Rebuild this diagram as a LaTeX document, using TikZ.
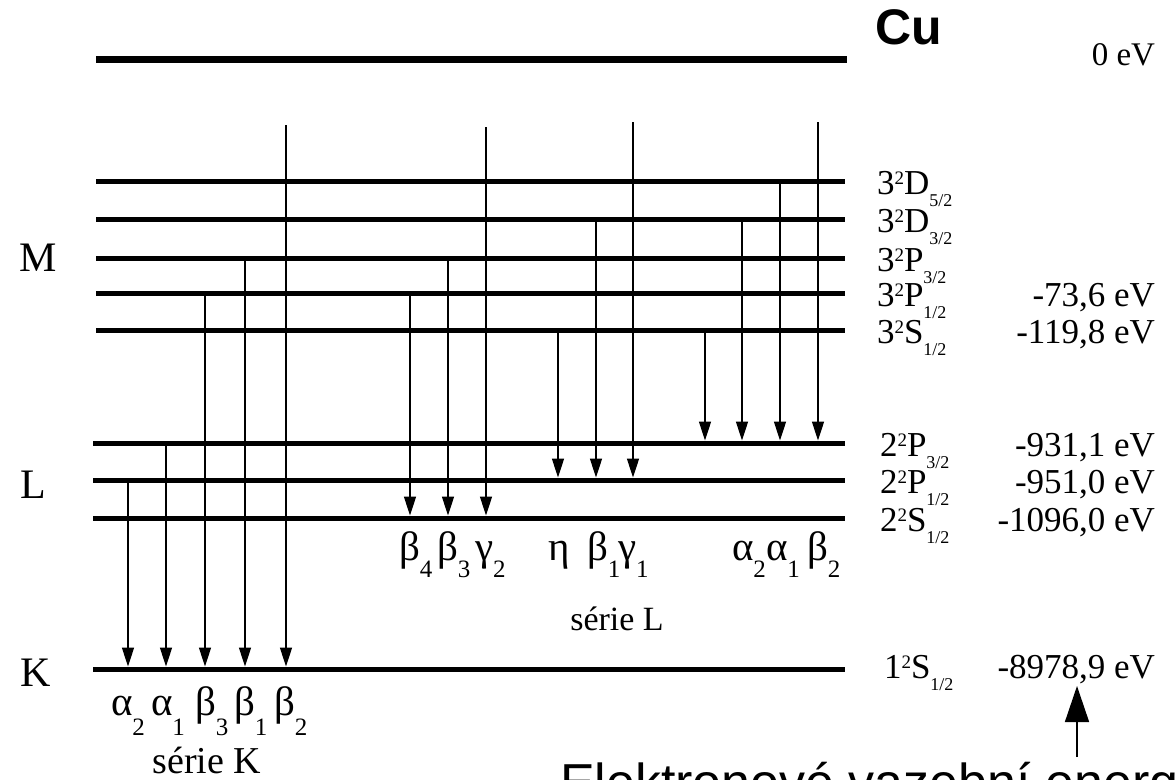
\documentclass[tikz,border=0pt]{standalone}
\usepackage{fontspec}
\setmainfont{Liberation Serif}
\newfontfamily\sansf{Liberation Sans}
\usetikzlibrary{arrows.meta}
\newcommand\fs[1]{\fontsize{#1bp}{#1bp}\selectfont}
\newcommand\trm[3]{#1\raisebox{10bp}{\fs{19}2}#2\raisebox{-12bp}{\fs{18}#3}}
\newcommand\gl[3]{#1\raisebox{-#3bp}{\fs{25}#2}}
\begin{document}
\begin{tikzpicture}[x=1bp,y=-1bp,
  lvl/.style={line width=5bp},
  top/.style={line width=7bp},
  tr/.style={line width=1.6bp,-{Triangle[length=19bp,width=12bp]}},
  lab/.style={inner sep=0pt,outer sep=0pt},
  trmlab/.style={lab,font=\fs{35},anchor=base west},
  vallab/.style={lab,font=\fs{35},anchor=base east},
  grk/.style={lab,font=\fs{41},anchor=base west},
  shell/.style={lab,font=\fs{42}}]
\useasboundingbox (0,0) rectangle (1176,780);
\begin{scope}
\clip (0,0) rectangle (1176,780);
% level positions
\def\yZ{60}\def\yDa{181}\def\yDb{219}\def\yPa{258}\def\yPb{293}\def\yS{330}
\def\yLa{443}\def\yLb{480}\def\yLc{518}\def\yK{669}
% levels
\draw[top] (96,\yZ) -- (847,\yZ);
\foreach \y in {\yDa,\yDb,\yPa,\yPb,\yS} \draw[lvl] (96,\y) -- (845,\y);
\foreach \y in {\yLa,\yLb,\yLc,\yK} \draw[lvl] (93,\y) -- (845,\y);
% K series transitions
\foreach \x/\ys in {128/\yLb,166/\yLa,205/\yPb,245/\yPa,286/125}
  \draw[tr] (\x,\ys) -- (\x,\yK-2.5);
% L1 transitions
\foreach \x/\ys in {410/\yPb,448/\yPa,486/127}
  \draw[tr] (\x,\ys) -- (\x,\yLc-2.5);
% L2 transitions
\foreach \x/\ys in {558/\yS,596/\yDb,633/122}
  \draw[tr] (\x,\ys) -- (\x,\yLb-2.5);
% L3 transitions
\foreach \x/\ys in {705/\yS,742/\yDb,780/\yDa,818/122}
  \draw[tr] (\x,\ys) -- (\x,\yLa-2.5);
% shells
\node[shell] (M) at (38,258) {M};
\node[shell] (L) at (33,485) {L};
\node[shell] (K) at (36,673) {K};
% title
\node[lab,font=\sansf\bfseries\fs{50},anchor=base west] (cu) at (875,45) {Cu};
\node[lab,font=\fs{33},anchor=base east] (e0) at (1155,66) {0 eV};
% terms
\node[trmlab] (tDa) at (877,194) {\trm{3}{D}{5/2}};
\node[trmlab] (tDb) at (877,232) {\trm{3}{D}{3/2}};
\node[trmlab] (tPa) at (877,271) {\trm{3}{P}{3/2}};
\node[trmlab] (tPb) at (877,306) {\trm{3}{P}{1/2}};
\node[trmlab] (tS) at (877,343) {\trm{3}{S}{1/2}};
\node[trmlab] (tLa) at (880,456) {\trm{2}{P}{3/2}};
\node[trmlab] (tLb) at (880,493) {\trm{2}{P}{1/2}};
\node[trmlab] (tLc) at (880,531) {\trm{2}{S}{1/2}};
\node[trmlab] (tK) at (884,678) {\trm{1}{S}{1/2}};
% values
\node[vallab] (vPb) at (1155,306) {-73,6 eV};
\node[vallab] (vS) at (1155,343) {-119,8 eV};
\node[vallab] (vLa) at (1155,456) {-931,1 eV};
\node[vallab] (vLb) at (1155,493) {-951,0 eV};
\node[vallab] (vLc) at (1155,531) {-1096,0 eV};
\node[vallab] (vK) at (1155,678) {-8978,9 eV};
% K series labels
\node[grk] (ka2) at (111,715) {\gl{α}{2}{20}};
\node[grk] (ka1) at (151,715) {\gl{α}{1}{20}};
\node[grk] (kb3) at (195,715) {\gl{β}{3}{20}};
\node[grk] (kb1) at (234,715) {\gl{β}{1}{20}};
\node[grk] (kb2) at (274,715) {\gl{β}{2}{20}};
\node[lab,font=\fs{38},anchor=base] (serK) at (207,773) {série K};
% L series labels
\node[grk] (lb4) at (399,560) {\gl{β}{4}{17}};
\node[grk] (lb3) at (437,560) {\gl{β}{3}{17}};
\node[grk] (lg2) at (475,560) {\gl{γ}{2}{17}};
\node[grk] (leta) at (548,560) {η};
\node[grk] (lb1) at (587,560) {\gl{β}{1}{17}};
\node[grk] (lg1) at (618,560) {\gl{γ}{1}{17}};
\node[grk] (la2) at (732,560) {\gl{α}{2}{17}};
\node[grk] (la1) at (766,560) {\gl{α}{1}{17}};
\node[grk] (lb2) at (807,560) {\gl{β}{2}{17}};
\node[lab,font=\fs{34},anchor=base] (serL) at (617,630) {série L};
% binding energy pointer
\node[lab,font=\sansf\fs{52},anchor=base west] (ev) at (560,800) {Elektronové vazební energie};
\coordinate (evtop) at (1077,757);
\coordinate (kval) at (1077,686);
\draw[line width=1.5bp,-{Triangle[length=36bp,width=24bp]}] (evtop) -- (kval);
\end{scope}
\end{tikzpicture}
\end{document}
